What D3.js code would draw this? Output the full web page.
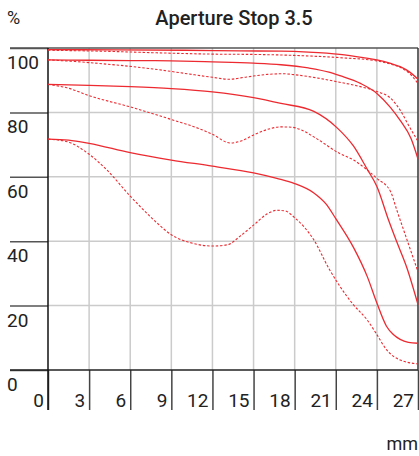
<!DOCTYPE html>
<html>
<head>
<meta charset="utf-8">
<script src="https://cdn.jsdelivr.net/npm/d3@7"></script>
<style>
  html, body { margin: 0; padding: 0; background: #fff; }
  svg text { font-family: Roboto, "Liberation Sans", sans-serif; fill: #222; }
</style>
</head>
<body>
<div id="chart"></div>
<script>
// MTF values in % as [image height mm, contrast %]
const solid5 = [[0,99.5],[5,99.4],[10,99.3],[14,99.1],[17,99.0],[19,98.7],[21.3,98.0],[23,97.0],[24,96.3],[25,95.2],[25.7,94.2],[26.4,92.5],[27,90.3]];
const dashed5 = [[0,99.3],[4,99.0],[8,98.5],[12,98.1],[15,98.0],[18,97.7],[21.3,97.0],[24,96.0],[25,95.0],[25.7,94.0],[26.4,92.0],[27,89.0]];
const solid10 = [[0,96.3],[3,96.2],[6,96.1],[9,96.0],[12,95.7],[15,95.3],[17,94.8],[19,93.8],[20.5,92.5],[21.3,91.4],[22.8,89.0],[24,85.9],[25,81.5],[25.7,77.5],[26.5,71.8],[27,65.5]];
const dashed10 = [[0,96.3],[2,95.8],[4,95.1],[6,94.3],[8,93.3],[10,92.1],[12,90.9],[13.2,90.3],[14.5,91.0],[16,91.8],[17.2,92.0],[18,91.7],[19.5,90.8],[21,89.6],[22.8,88.0],[24,86.5],[25,84.4],[25.7,80.7],[26.3,76.1],[27,71.0]];
const solid20 = [[0,88.7],[3,88.4],[6,88.0],[9,87.4],[12,86.4],[15,84.6],[17,82.8],[19.4,80.3],[21.1,75.2],[22.3,69.5],[23.3,62.3],[24,57.0],[24.85,46.6],[25.45,39.8],[26.2,31.6],[27,20.3]];
const dashed20 = [[0,88.7],[1.5,87.5],[3,85.2],[6,81.7],[9,77.8],[11,75.0],[12,73.2],[13.3,70.5],[14.2,71.3],[15,73.0],[16,74.7],[17,75.5],[17.8,75.4],[18.5,74.5],[19.4,72.4],[21.3,67.2],[22.3,65.2],[23.3,62.1],[24,59.5],[25,55.4],[25.45,49.7],[26.2,40.4],[27,30.5]];
const solid40 = [[0,71.7],[1.5,71.4],[3,70.4],[6,67.5],[9,65.2],[12,63.3],[15,61.2],[16.7,59.5],[18,57.9],[19.4,55.0],[20.3,51.5],[21,47.0],[22.3,38.0],[23.3,29.0],[24,20.8],[24.7,13.6],[25.2,11.0],[25.7,9.5],[26.3,8.6],[27,8.3]];
const dashed40 = [[0,71.7],[1.4,70.9],[3,67.0],[4.3,62.1],[6,54.0],[7.5,47.5],[9,42.0],[10.6,39.3],[12,38.5],[13.1,38.9],[14,41.5],[15,45.0],[16,48.5],[16.7,49.6],[17.3,49.4],[18,47.3],[19.4,40.4],[20.5,31.5],[21.3,26.0],[22.3,20.2],[23.3,15.5],[24,11.0],[24.7,6.3],[25.7,3.1],[27,1.9]];

const xTicks = [0, 3, 6, 9, 12, 15, 18, 21, 24, 27];
const yTicks = [0, 20, 40, 60, 80, 100];

const width = 419, height = 456;
const margin = { top: 48, right: 1, bottom: 86, left: 48 };

const x = d3.scaleLinear().domain([0, 27]).range([margin.left, width - margin.right]);
const y = d3.scaleLinear().domain([0, 100]).range([height - margin.bottom, margin.top]);

const svg = d3.select("#chart").append("svg")
  .attr("width", width)
  .attr("height", height);

// light grid inside the plot
svg.append("g")
  .selectAll("line")
  .data(xTicks.filter(d => d > 0 && d < 27))
  .join("line")
    .attr("x1", d => x(d)).attr("x2", d => x(d))
    .attr("y1", y(100)).attr("y2", y(0))
    .attr("stroke", "#cbcbcb").attr("stroke-width", 1.5);

svg.append("g")
  .selectAll("line")
  .data(yTicks.filter(d => d > 0 && d < 100))
  .join("line")
    .attr("x1", x(0)).attr("x2", x(27))
    .attr("y1", d => y(d)).attr("y2", d => y(d))
    .attr("stroke", "#cbcbcb").attr("stroke-width", 1.5);

// left axis: ticks reach out to the labels
const yAxis = g => g
  .attr("transform", `translate(${x(0)},0)`)
  .call(d3.axisLeft(y).tickValues(yTicks).tickSize(38).tickFormat(""))
  .call(g => g.select(".domain").remove())
  .call(g => g.selectAll(".tick line").attr("stroke", "#555").attr("stroke-width", 1.5));

// bottom axis: ticks hang below the zero line
const xAxis = g => g
  .attr("transform", `translate(0,${y(0)})`)
  .call(d3.axisBottom(x).tickValues(xTicks).tickSize(40).tickFormat(""))
  .call(g => g.select(".domain").remove())
  .call(g => g.selectAll(".tick line").attr("stroke", "#444").attr("stroke-width", 1.5));

svg.append("g").call(yAxis);
svg.append("g").call(xAxis);

// frame
svg.append("line")
  .attr("x1", 10).attr("x2", x(27))
  .attr("y1", y(100)).attr("y2", y(100))
  .attr("stroke", "#555").attr("stroke-width", 1.5);
svg.append("line")
  .attr("x1", 10).attr("x2", x(27))
  .attr("y1", y(0)).attr("y2", y(0))
  .attr("stroke", "#222").attr("stroke-width", 1.5);
svg.append("line")
  .attr("x1", x(0)).attr("x2", x(0))
  .attr("y1", y(100)).attr("y2", y(0) + 40)
  .attr("stroke", "#111").attr("stroke-width", 1.5);
svg.append("line")
  .attr("x1", x(27)).attr("x2", x(27))
  .attr("y1", y(100)).attr("y2", y(0))
  .attr("stroke", "#333").attr("stroke-width", 1.5);

// curves
const line = d3.line()
  .x(d => x(d[0]))
  .y(d => y(d[1]))
  .curve(d3.curveMonotoneX);

const series = [
  { data: solid5, dashed: false }, { data: dashed5, dashed: true },
  { data: solid10, dashed: false }, { data: dashed10, dashed: true },
  { data: solid20, dashed: false }, { data: dashed20, dashed: true },
  { data: solid40, dashed: false }, { data: dashed40, dashed: true }
];

svg.append("g")
  .attr("fill", "none")
  .attr("stroke", "#ec2a30")
  .selectAll("path")
  .data(series)
  .join("path")
    .attr("d", d => line(d.data))
    .attr("stroke-width", d => d.dashed ? 1.1 : 1.3)
    .attr("stroke-dasharray", d => d.dashed ? "2.5,1.8" : null);

// tick labels
svg.append("g")
  .selectAll("text")
  .data(yTicks)
  .join("text")
    .attr("x", 7)
    .attr("y", d => y(d) + 21)
    .attr("font-size", 19)
    .text(d => d);

svg.append("g")
  .selectAll("text")
  .data(xTicks)
  .join("text")
    .attr("x", d => x(d) - 4)
    .attr("y", y(0) + 37)
    .attr("text-anchor", "end")
    .attr("font-size", 19)
    .text(d => d);

svg.append("text")
  .attr("x", 7).attr("y", 24)
  .attr("font-size", 18)
  .text("%");

svg.append("text")
  .attr("x", x(27)).attr("y", 450)
  .attr("text-anchor", "end")
  .attr("font-size", 18)
  .text("mm");

svg.append("text")
  .attr("x", (x(0) + x(27)) / 2 + 1).attr("y", 25)
  .attr("text-anchor", "middle")
  .attr("font-size", 20)
  .attr("font-weight", 500)
  .text("Aperture Stop 3.5");
</script>
</body>
</html>
